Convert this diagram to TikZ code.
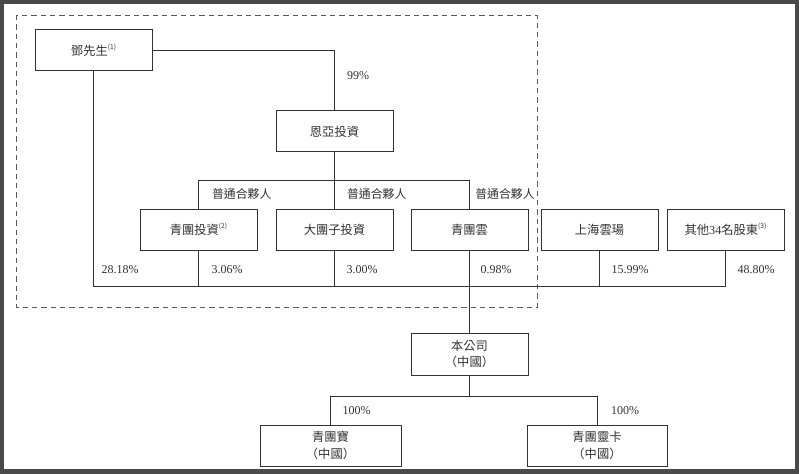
\documentclass[tikz,border=0pt]{standalone}
\usepackage{fontspec}
\setmainfont{Liberation Serif}
\newfontfamily\cjk{Noto Sans CJK TC}
\definecolor{frame}{HTML}{4A4A4A}
\definecolor{ink}{HTML}{333333}
\newcommand{\noteref}[1]{\raisebox{0.45em}{\fontsize{5}{5}\selectfont(#1)}}
\begin{document}
\begin{tikzpicture}[x=0.75pt,y=-0.75pt,
  box/.style={draw=ink, line width=0.75pt, minimum width=87.75pt, minimum height=30.75pt,
    inner sep=0pt, align=center, text=ink, font=\cjk\fontsize{9.2}{12.5}\selectfont},
  ln/.style={draw=ink, line width=0.7pt},
  pct/.style={text=ink, inner sep=0pt, font=\fontsize{9}{11}\selectfont},
  gp/.style={text=ink, inner sep=0pt, font=\cjk\fontsize{8.9}{11}\selectfont}]
\useasboundingbox (0,0) rectangle (799,474);
\fill[frame] (0,0) rectangle (799,474);
\fill[white] (4,4) rectangle (795,468.5);
\draw[gray!70!black, line width=0.7pt, dash pattern=on 4pt off 3pt] (16,15) rectangle (537,307);
% nodes
\node[box] (deng) at (93.5,50.5) {鄧先生\noteref{1}};
\node[box] (enya) at (334.5,131.5) {恩亞投資};
\node[box] (qtinv) at (198.5,229.5) {青團投資\noteref{2}};
\node[box] (dtz) at (334.5,229.5) {大團子投資};
\node[box] (qty) at (469.5,229.5) {青團雲};
\node[box] (shyc) at (599.5,229.5) {上海雲瑒};
\node[box] (other) at (725.5,229.5) {其他{\rmfamily 34}名股東\noteref{3}};
\node[box, minimum height=31.5pt] (co) at (469.5,354) {本公司\\（中國）};
\node[box, minimum width=105.75pt] (qtb) at (330.5,445.5) {青團寶\\（中國）};
\node[box, minimum width=105pt] (qtlk) at (597,445.5) {青團靈卡\\（中國）};
% connectors
\draw[ln] (deng.east) -| (enya.north);
\draw[ln] (enya.south) -- (dtz.north);
\draw[ln] (qtinv.north) -- ++(0,-28) -| (qty.north);
\coordinate (busR) at (725.5,286);
\draw[ln] (deng.south) |- (busR) -- (other.south);
\draw[ln] (qtinv.south) -- (qtinv.south |- busR);
\draw[ln] (dtz.south) -- (dtz.south |- busR);
\draw[ln] (shyc.south) -- (shyc.south |- busR);
\draw[ln] (qty.south) -- (co.north);
\draw[ln] (co.south) -- (co.south |- 0,397);
\draw[ln] (qtb.north) -- ++(0,-28) -| (qtlk.north);
% labels
\node[pct] (l99) at (358,76) {99\%};
\node[gp] (g1) at (241.7,193.5) {普通合夥人};
\node[gp] (g2) at (376.7,193.5) {普通合夥人};
\node[gp] (g3) at (505,193.5) {普通合夥人};
\node[pct] (p1) at (120,270) {28.18\%};
\node[pct] (p2) at (227,270) {3.06\%};
\node[pct] (p3) at (362,270) {3.00\%};
\node[pct] (p4) at (496,270) {0.98\%};
\node[pct] (p5) at (630,270) {15.99\%};
\node[pct] (p6) at (756,270) {48.80\%};
\node[pct] (p7) at (356.7,411) {100\%};
\node[pct] (p8) at (625,411) {100\%};
\end{tikzpicture}
\end{document}
